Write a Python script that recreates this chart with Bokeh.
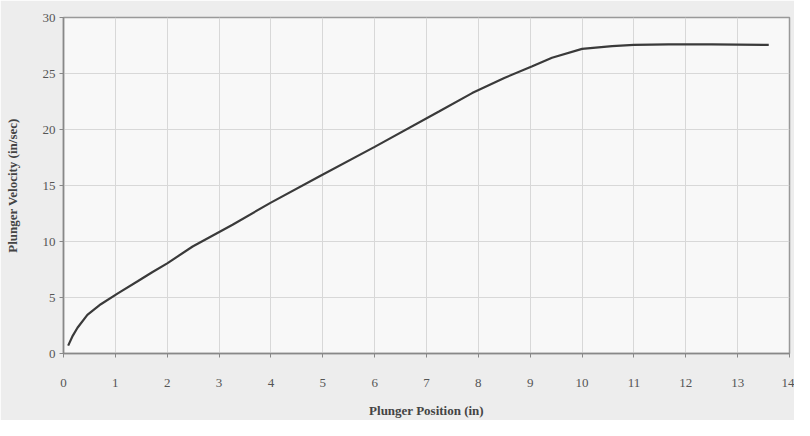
from bokeh.plotting import figure
from bokeh.models import Range1d, FixedTicker
from bokeh.embed import file_html
from bokeh.resources import INLINE

position_in = [0.09, 0.18, 0.27, 0.46, 0.72, 1.04, 1.43, 1.71, 2.0, 2.49, 3.26, 3.99,
               4.93, 6.0, 7.24, 7.88, 8.5, 9.04, 9.42, 10.0, 10.58, 11.0, 11.67, 12.5, 13.6]
velocity_in_s = [0.7, 1.6, 2.3, 3.45, 4.4, 5.35, 6.45, 7.25, 8.05, 9.55, 11.5, 13.45,
                 15.8, 18.45, 21.6, 23.25, 24.6, 25.65, 26.4, 27.2, 27.45, 27.55, 27.6, 27.6, 27.55]
x_ticks = list(range(0, 15))
y_ticks = [0, 5, 10, 15, 20, 25, 30]

p = figure(width=794, height=420, output_backend="svg", toolbar_location=None,
           x_range=Range1d(0, 14), y_range=Range1d(0, 30),
           min_border_left=63, min_border_right=5, min_border_top=17, min_border_bottom=65)

p.background_fill_color = "#f8f8f8"
p.border_fill_color = "#ededed"
p.outline_line_color = "#999999"
p.outline_line_width = 1.5

p.line(position_in, velocity_in_s, line_color="#3a3a3a", line_width=2.2)

p.xaxis.ticker = FixedTicker(ticks=x_ticks)
p.yaxis.ticker = FixedTicker(ticks=y_ticks)
p.xgrid.ticker = FixedTicker(ticks=x_ticks)
p.ygrid.ticker = FixedTicker(ticks=y_ticks)
p.xgrid.grid_line_color = "#d8d8d8"
p.ygrid.grid_line_color = "#d8d8d8"

p.xaxis.axis_label = "Plunger Position (in)"
p.yaxis.axis_label = "Plunger Velocity (in/sec)"
for ax in (p.xaxis, p.yaxis):
    ax.axis_label_text_font = "Liberation Serif"
    ax.axis_label_text_font_style = "bold"
    ax.axis_label_text_font_size = "13px"
    ax.axis_label_text_color = "#444444"
    ax.major_label_text_font = "Liberation Serif"
    ax.major_label_text_font_size = "13px"
    ax.major_label_text_color = "#555555"
    ax.axis_line_color = "#888888"
    ax.axis_line_width = 1.5
    ax.major_tick_line_color = "#888888"
    ax.major_tick_out = 4
    ax.major_tick_in = 0
    ax.minor_tick_line_color = None

p.xaxis.major_label_standoff = 21
p.xaxis.axis_label_standoff = 13
p.yaxis.major_label_standoff = 4
p.yaxis.axis_label_standoff = 20

open("out.html", "w").write(file_html(p, INLINE))
